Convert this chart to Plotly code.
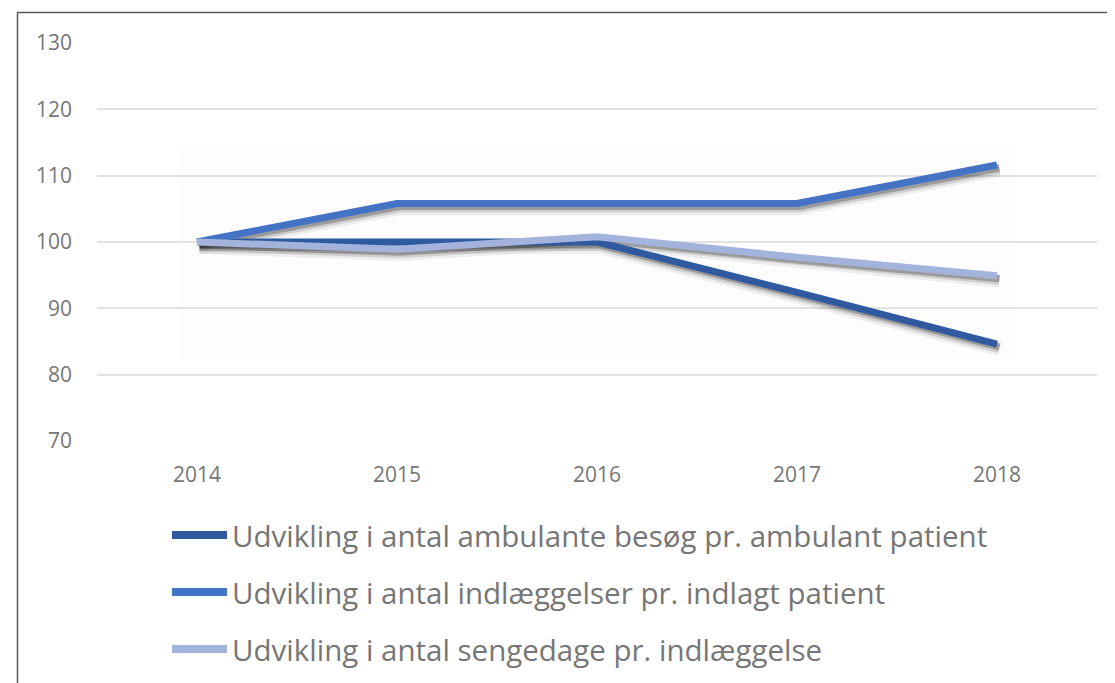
import plotly.graph_objects as go

years = [2014, 2015, 2016, 2017, 2018]
series_names = [
    "Udvikling i antal ambulante besøg pr. ambulant patient",
    "Udvikling i antal indlæggelser pr. indlagt patient",
    "Udvikling i antal sengedage pr. indlæggelse",
]
ambulante = [100, 100, 100, 92.4, 84.6]
indlaeggelser = [100, 105.8, 105.8, 105.8, 111.6]
sengedage = [100, 98.9, 100.8, 97.7, 94.9]
colors = ["#2F5AA0", "#4472C4", "#A4B3DB"]
y_ticks = [70, 80, 90, 100, 110, 120, 130]

# page has an 8px body margin: target pixel coords are shifted by OFF
OFF = 8
W, H = 1115, 683
L, T = 97 - OFF, 43 - OFF
pw, ph = 1000, 398
R = W - L - pw
B = H - T - ph

def px_x(p):
    return (p - OFF - L) / pw

def px_y(p):
    return (T + ph - (p - OFF)) / ph

fig = go.Figure()
all_series = [ambulante, indlaeggelser, sengedage]

# soft drop shadows under the lines
for vals in all_series:
    for off, w, a in [(0.8, 13, 0.06), (0.6, 10, 0.13), (0.45, 7, 0.25)]:
        fig.add_trace(go.Scatter(
            x=[y + 0.012 for y in years], y=[v - off for v in vals], mode="lines",
            line=dict(color=f"rgba(0,0,0,{a})", width=w),
            hoverinfo="skip", showlegend=False))

for name, vals, c in zip(series_names, all_series, colors):
    fig.add_trace(go.Scatter(x=years, y=vals, mode="lines", name=name,
                             line=dict(color=c, width=7), showlegend=False))

shapes = []
annotations = []
# border
shapes.append(dict(type="rect", xref="paper", yref="paper",
                   x0=px_x(17.5), x1=px_x(1160), y0=px_y(12.5), y1=px_y(760),
                   line=dict(color="#5a5a5a", width=1.5), fillcolor="rgba(0,0,0,0)", layer="below"))
# faint backdrop
shapes.append(dict(type="rect", xref="paper", yref="paper",
                   x0=px_x(180), x1=px_x(1015), y0=px_y(150), y1=px_y(360),
                   line=dict(width=0), fillcolor="rgba(0,0,0,0.006)", layer="below"))

leg_y = [535, 592, 649]
for name, c, yy in zip(series_names, colors, leg_y):
    shapes.append(dict(type="line", xref="paper", yref="paper",
                       x0=px_x(172), x1=px_x(227), y0=px_y(yy), y1=px_y(yy),
                       line=dict(color=c, width=8)))
    annotations.append(dict(xref="paper", yref="paper", x=px_x(230), y=px_y(yy),
                            xanchor="left", yanchor="middle", showarrow=False,
                            text=name, font=dict(size=29.5, color="#767676", family="Open Sans")))

fig.update_layout(
    width=W, height=H,
    margin=dict(l=L, r=R, t=T, b=B),
    paper_bgcolor="white", plot_bgcolor="rgba(0,0,0,0)",
    shapes=shapes, annotations=annotations,
    font=dict(family="Open Sans", color="#767676"),
    xaxis=dict(range=[2013.5, 2018.5], tickvals=years, ticktext=[str(y) for y in years],
               showgrid=False, zeroline=False, showline=False,
               tickfont=dict(size=21, color="#767676"), ticklabelstandoff=19),
    yaxis=dict(range=[70, 130], tickvals=y_ticks, showgrid=True, gridcolor="#E2E2E2",
               gridwidth=1.5, zeroline=False, showline=False,
               tickfont=dict(size=21, color="#767676"), ticklabelstandoff=24),
)

fig.write_html("out.html")
